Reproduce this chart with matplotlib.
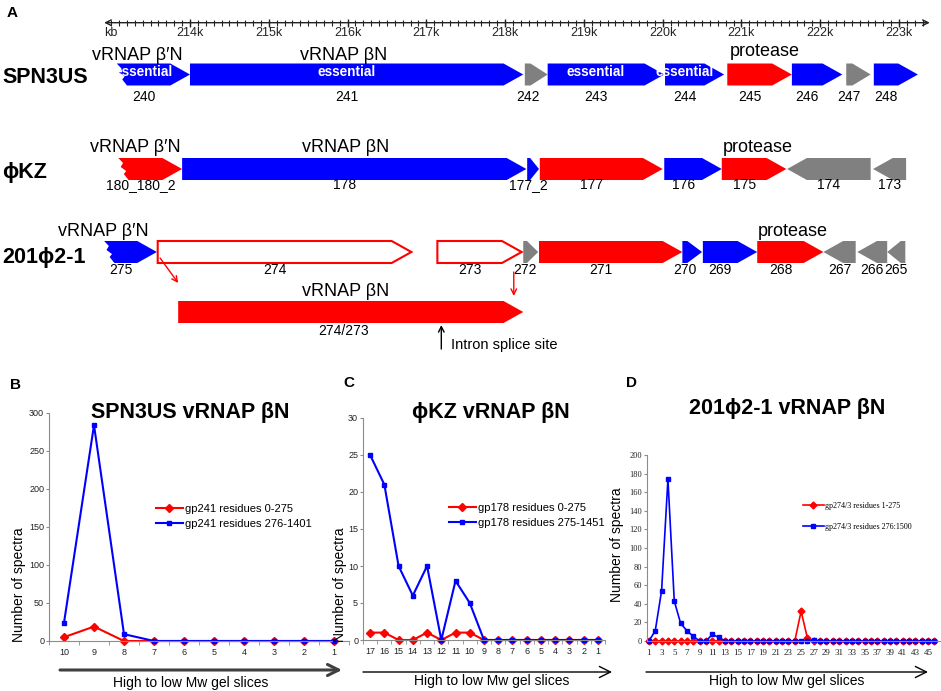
import numpy as np
import matplotlib
matplotlib.use('Agg')
import matplotlib.pyplot as plt
from matplotlib.patches import Polygon

plt.rcParams['font.family'] = ['Liberation Sans', 'DejaVu Sans']

W, H = 941, 691
RED, BLUE, GRAY = '#ff0000', '#0000ff', '#808080'
COLORS = {'r': RED, 'b': BLUE, 'g': GRAY, 'o': 'white'}

# ---- panel A: gene maps, positions in kb ----
spn_names = ['240', '241', '242', '243', '244', '245', '246', '247', '248']
spn_start = [213.07, 214.00, 218.25, 218.54, 220.03, 220.82, 221.64, 222.33, 222.68]
spn_end = [214.00, 218.23, 218.54, 220.02, 220.78, 221.64, 222.28, 222.64, 223.24]
spn_color = ['b', 'b', 'g', 'b', 'b', 'r', 'b', 'g', 'b']
spn_strand = [1, 1, 1, 1, 1, 1, 1, 1, 1]

kz_names = ['180_180_2', '178', '177_2', '177', '176', '175', '174', '173']
kz_start = [213.09, 213.90, 218.28, 218.44, 220.02, 220.75, 221.58, 222.67]
kz_end = [213.90, 218.27, 218.43, 220.00, 220.75, 221.57, 222.64, 223.09]
kz_color = ['r', 'b', 'b', 'r', 'b', 'r', 'g', 'g']
kz_strand = [1, 1, 1, 1, 1, 1, -1, -1]

p21_names = ['275', '274', '273', '272', '271', '270', '269', '268', '267', '266', '265']
p21_start = [212.91, 213.59, 217.14, 218.23, 218.43, 220.25, 220.51, 221.20, 222.04, 222.47, 222.85]
p21_end = [213.58, 216.81, 218.21, 218.42, 220.25, 220.50, 221.20, 222.04, 222.45, 222.85, 223.08]
p21_color = ['b', 'o', 'o', 'g', 'r', 'b', 'b', 'r', 'g', 'g', 'g']
p21_strand = [1, 1, 1, 1, 1, 1, 1, 1, -1, -1, -1]

spliced_start, spliced_end = 213.85, 218.23
essential_genes = ['240', '241', '243', '244']

# ---- panels B-D: spectra per gel slice ----
b_slices = ['10', '9', '8', '7', '6', '5', '4', '3', '2', '1']
b_red = [5, 19, 0, 0, 0, 0, 0, 0, 0, 0]
b_blue = [24, 284, 9, 0, 0, 0, 0, 0, 0, 0]

c_slices = ['17', '16', '15', '14', '13', '12', '11', '10', '9', '8', '7', '6', '5', '4', '3', '2', '1']
c_red = [1, 1, 0, 0, 1, 0, 1, 1, 0, 0, 0, 0, 0, 0, 0, 0, 0]
c_blue = [25, 21, 10, 6, 10, 0, 8, 5, 0, 0, 0, 0, 0, 0, 0, 0, 0]

d_slices = list(range(1, 47))
d_red = [0] * 24 + [32, 3] + [0] * 20
d_blue = [0, 11, 54, 174, 43, 19, 11, 5, 0, 0, 7, 4] + [0] * 13 + [0, 1] + [0] * 19

fig = plt.figure(figsize=(W / 100, H / 100), dpi=100)

# panel A axes: x in kb, y in pixel rows
def kb(px):
    return 214 + (px - 190) / 78.78

axA = fig.add_axes([0, 1 - 360 / H, 1, 360 / H])
axA.set_xlim(kb(0), kb(W))
axA.set_ylim(360, 0)
axA.axis('off')
axA.patch.set_alpha(0)

# scale bar
axA.annotate('', xy=(223.39, 22.7), xytext=(212.91, 22.7),
             arrowprops=dict(arrowstyle='<->', lw=1, color='#222222', shrinkA=0, shrinkB=0))
axA.vlines(np.arange(213.0, 223.35, 0.1), 20, 25.5, color='#222222', lw=0.8)
axA.vlines(np.arange(214, 224), 18.5, 27, color='#222222', lw=1)
for k in range(214, 224):
    axA.text(k, 33, f'{k}k', ha='center', va='center', fontsize=9, color='#222222')
axA.text(213.0, 33, 'kb', ha='center', va='center', fontsize=9, color='#222222')


def draw_gene(x0, x1, yc, color, strand, ragged=False):
    h = 11
    head = min(0.25, 0.75 * (x1 - x0))
    if strand > 0:
        xb = x1 - head
        pts = [(xb, yc - h), (x1, yc), (xb, yc + h)]
        if ragged:
            pts += [(x0 + 0.13, yc + h), (x0 + 0.07, yc + 5), (x0 + 0.1, yc + 2),
                    (x0 + 0.03, yc - 2), (x0 + 0.06, yc - 6), (x0, yc - h)]
        else:
            pts += [(x0, yc + h), (x0, yc - h)]
        cx = (x0 + xb) / 2
    else:
        xb = x0 + head
        pts = [(x1, yc - h), (xb, yc - h), (x0, yc), (xb, yc + h), (x1, yc + h)]
        cx = (x0 + x1) / 2
    if color == 'o':
        poly = Polygon(pts, closed=True, facecolor='white', edgecolor=RED, lw=1.5)
    else:
        poly = Polygon(pts, closed=True, facecolor=COLORS[color], edgecolor='none')
    axA.add_patch(poly)
    return poly, cx


rows = [
    (spn_names, spn_start, spn_end, spn_color, spn_strand, 74.5, 97),
    (kz_names, kz_start, kz_end, kz_color, kz_strand, 169, 185),
    (p21_names, p21_start, p21_end, p21_color, p21_strand, 252, 270),
]
for names, starts, ends, cols, strands, yc, ylab in rows:
    for i, name in enumerate(names):
        poly, cx = draw_gene(starts[i], ends[i], yc, cols[i], strands[i], ragged=(i == 0))
        axA.text(cx, ylab, name, ha='center', va='center', fontsize=10)
        if names is spn_names and name in essential_genes:
            t = axA.text(cx, 72.5, 'essential', ha='center', va='center', fontsize=9.8,
                         fontweight='bold', color='white')
            t.set_clip_path(poly)

# spliced product
draw_gene(spliced_start, spliced_end, 312, 'r', 1)
axA.text(215.97, 292, 'vRNAP βN', ha='center', va='center', fontsize=13)
axA.text(215.95, 331, '274/273', ha='center', va='center', fontsize=10)

# annotations
for x, y, s in [(213.33, 55, 'vRNAP β′N'), (215.95, 55, 'vRNAP βN'), (221.29, 52, 'protease'),
                (213.30, 148, 'vRNAP β′N'), (215.97, 148, 'vRNAP βN'), (221.21, 147, 'protease'),
                (212.90, 232, 'vRNAP β′N'), (221.65, 232, 'protease')]:
    axA.text(x, y, s, ha='center', va='center', fontsize=13)

axA.annotate('', xy=(213.85, 283), xytext=(213.62, 258),
             arrowprops=dict(arrowstyle='->', color=RED, lw=1, shrinkA=0, shrinkB=0))
axA.annotate('', xy=(218.11, 296), xytext=(218.11, 272),
             arrowprops=dict(arrowstyle='->', color=RED, lw=1, shrinkA=0, shrinkB=0))
axA.annotate('', xy=(217.19, 325), xytext=(217.19, 349),
             arrowprops=dict(arrowstyle='->', color='black', lw=1, shrinkA=0, shrinkB=0))
axA.text(217.31, 345, 'Intron splice site', ha='left', va='center', fontsize=10.5)


def gel_axes(left, right, top, bottom):
    ax = fig.add_axes([left / W, 1 - bottom / H, (right - left) / W, (bottom - top) / H])
    ax.set_facecolor('none')
    for s in ['top', 'right']:
        ax.spines[s].set_visible(False)
    for s in ['left', 'bottom']:
        ax.spines[s].set_color('#8c8c8c')
    ax.tick_params(colors='#8c8c8c', labelcolor='#222222', length=2, width=0.8,
                   pad=1.5, labelsize=6.5)
    return ax


def category_panel(ax, slices, red, blue, ymax, ystep, labels, leg_xy):
    x = np.arange(len(slices))
    ax.plot(x, red, color=RED, marker='D', ms=4, lw=1.5, clip_on=False, label=labels[0])
    ax.plot(x, blue, color=BLUE, marker='s', ms=3.5, lw=1.5, clip_on=False, label=labels[1])
    ax.set_xlim(-0.5, len(x) - 0.5)
    ax.set_ylim(0, ymax)
    ax.set_yticks(np.arange(0, ymax + 1, ystep))
    ax.set_xticks(x, slices)
    ax.set_xticks(np.arange(-0.5, len(x)), minor=True)
    ax.tick_params(axis='x', which='major', length=0, pad=5)
    ax.tick_params(axis='x', which='minor', length=3, colors='#8c8c8c')
    ax.legend(loc='center left', bbox_to_anchor=leg_xy, frameon=False, fontsize=8,
              handlelength=2.4, handletextpad=0.2, labelspacing=0.5,
              borderpad=0, borderaxespad=0)


# panel B
axB = gel_axes(49, 349, 413, 641)
category_panel(axB, b_slices, b_red, b_blue, 300, 50,
               ['gp241 residues 0-275', 'gp241 residues 276-1401'], (0.357, 0.546))
axB.set_ylabel('Number of spectra', fontsize=10)
axB.yaxis.set_label_coords(-0.078, 0.245)

# panel C
axC = gel_axes(363, 605, 418, 640)
category_panel(axC, c_slices, c_red, c_blue, 30, 5,
               ['gp178 residues 0-275', 'gp178 residues 275-1451'], (0.355, 0.561))
axC.set_ylabel('Number of spectra', fontsize=10)
axC.yaxis.set_label_coords(-0.066, 0.248)

# panel D
axD = gel_axes(647, 940, 455, 641)
axD.plot(d_slices, d_red, color=RED, marker='D', ms=3.5, lw=1.2, clip_on=False,
         label='gp274/3 residues 1-275')
axD.plot(d_slices, d_blue, color=BLUE, marker='s', ms=3, lw=1.2, clip_on=False,
         label='gp274/3 residues 276:1500')
axD.set_xlim(0.7, 46.9)
axD.set_ylim(0, 200)
axD.set_yticks(np.arange(0, 201, 20))
axD.set_xticks(d_slices[::2])
axD.set_xticks(d_slices, minor=True)
axD.tick_params(axis='x', which='both', length=2, pad=4, colors='#8c8c8c')
axD.tick_params(axis='x', which='major', labelcolor='#222222')
axD.tick_params(axis='y', labelsize=6)
for lbl in axD.get_xticklabels() + axD.get_yticklabels():
    lbl.set_fontfamily('Liberation Serif')
axD.legend(loc='center left', bbox_to_anchor=(0.532, 0.669), frameon=False,
           prop={'family': 'Liberation Serif', 'size': 5.8},
           handlelength=2.6, handletextpad=0.2, labelspacing=1.6,
           borderpad=0, borderaxespad=0)
axD.set_ylabel('Number of spectra', fontsize=10)
axD.yaxis.set_label_coords(-0.078, 0.516)

# overlay in pixel coordinates for letters, titles and arrows
ov = fig.add_axes([0, 0, 1, 1])
ov.set_xlim(0, W)
ov.set_ylim(H, 0)
ov.axis('off')
ov.patch.set_alpha(0)

for x, y, s in [(7, 13, 'A'), (10, 385, 'B'), (343, 383, 'C'), (626, 383, 'D')]:
    ov.text(x, y, s, ha='left', va='center', fontsize=11, fontweight='bold')
for y, s in [(77, 'SPN3US'), (172, 'ϕKZ'), (257, '201ϕ2-1')]:
    ov.text(2, y, s, ha='left', va='center', fontsize=15.5, fontweight='bold')
for x, y, s in [(190, 412, 'SPN3US vRNAP βN'), (491, 412, 'ϕKZ vRNAP βN'),
                (787, 408, '201ϕ2-1 vRNAP βN')]:
    ov.text(x, y, s, ha='center', va='center', fontsize=15.5, fontweight='bold')

for x0, x1, y, lw, col in [(60, 342, 670, 2.2, '#404040'), (363, 612, 672, 1, 'black'),
                           (646, 928, 672, 1, 'black')]:
    ov.annotate('', xy=(x1, y), xytext=(x0, y),
                arrowprops=dict(arrowstyle='->,head_length=0.8,head_width=0.4', lw=lw,
                                color=col, shrinkA=0, shrinkB=0))
for x, y in [(191, 683), (492, 681), (787, 681)]:
    ov.text(x, y, 'High to low Mw gel slices', ha='center', va='center', fontsize=10)

fig.savefig('out.png', dpi=100)
